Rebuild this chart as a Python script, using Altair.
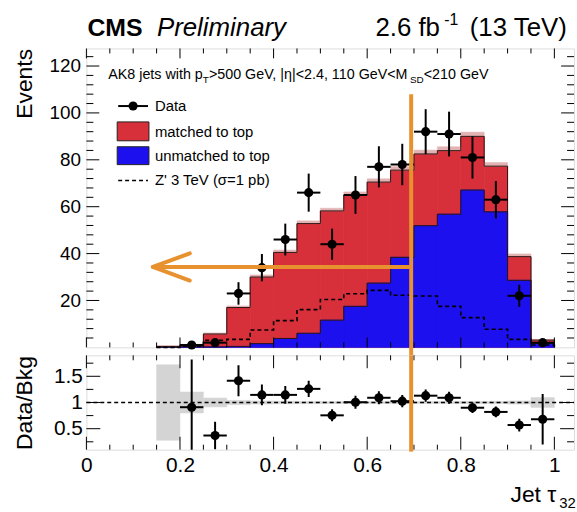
import altair as alt
import pandas as pd
import numpy as np

FONT = "Liberation Sans"
RED = "#d8303a"
BLUE = "#1c10ee"
ORANGE = "#e8912f"
GRAYBAND = "#d4d4d4"

# ---------------- data ----------------
bin_low = [0.15, 0.20, 0.25, 0.30, 0.35, 0.40, 0.45, 0.50, 0.55, 0.60,
           0.65, 0.70, 0.75, 0.80, 0.85, 0.90, 0.95]
bin_width = 0.05
unmatched = [0.1, 0.2, 0.2, 0.4, 1.6, 3.8, 6.0, 11.6, 17.5, 27.4,
             38.4, 51.9, 56.8, 67.1, 57.8, 28.6, 1.7]
matched = [0.3, 0.9, 5.5, 16.6, 28.4, 36.7, 46.8, 46.6, 47.5, 43.1,
           37.2, 30.6, 27.1, 22.9, 19.5, 10.1, 1.4]
zprime = [0.0, 0.5, 3.0, 3.4, 7.4, 11.4, 16.1, 20.4, 22.9, 24.3,
          22.2, 21.9, 17.5, 12.7, 7.7, 3.4, 1.0]
bkg_rel_unc = [0.72, 0.20, 0.085, 0.04, 0.03, 0.025, 0.022, 0.02, 0.02, 0.02,
               0.02, 0.02, 0.02, 0.02, 0.02, 0.03, 0.095]

data_x = [0.225, 0.275, 0.325, 0.375, 0.425, 0.475, 0.525, 0.575,
          0.625, 0.675, 0.725, 0.775, 0.825, 0.875, 0.925, 0.975]
data_n = [1, 2, 23, 34, 46, 66, 44, 65, 77, 78, 92, 91, 81, 63, 22, 2]
ratio = [0.91, 0.37, 1.415, 1.145, 1.145, 1.26, 0.755, 1.005,
         1.09, 1.025, 1.13, 1.09, 0.90, 0.82, 0.57, 0.68]

x_label_vals = [0, 0.2, 0.4, 0.6, 0.8, 1.0]
x_minor_vals = [0.05, 0.1, 0.15, 0.25, 0.3, 0.35, 0.45, 0.5, 0.55, 0.65,
                0.7, 0.75, 0.85, 0.9, 0.95]
y_top_major = [20, 40, 60, 80, 100, 120]
y_top_minor = [4, 8, 12, 16, 24, 28, 32, 36, 44, 48, 52, 56, 64, 68, 72, 76,
               84, 88, 92, 96, 104, 108, 112, 116, 124]
y_rat_major = [0.5, 1.0, 1.5]
y_rat_minor = [0.25, 0.75, 1.25, 1.75]

# annotation (orange overlay) in data units
cut_x = 0.694
arrow_y = 34.3
arrow_tip_x = 0.142
arrow_wing_x = 0.221
arrow_wing_dy = 5.8
cut_top_y = 108

# ---------------- geometry ----------------
W = 491
H_TOP = 301
H_RAT = 95
GAP = 8

XS = alt.Scale(domain=[0, 1.042], nice=False, zero=False)
YT = alt.Scale(domain=[0, 127.5], nice=False, zero=False)
YR = alt.Scale(domain=[0.1, 1.9], nice=False, zero=False)

ONE = pd.DataFrame({"k": [0]})

AW = {' ': 278, 'A': 667, 'K': 667, '8': 556, 'j': 222, 'e': 556, 't': 278, 's': 500,
      'w': 722, 'i': 222, 'h': 556, 'p': 556, 'T': 611, '>': 584, '5': 556, '0': 556,
      'G': 778, 'V': 667, ',': 278, '|': 260, 'η': 556, '<': 584, '2': 556, '.': 278,
      '4': 556, '1': 556, 'M': 833, 'S': 667, 'D': 722, 'J': 500, 'τ': 480}


def tw(s, size):
    return sum(AW.get(c, 556) for c in s) * size / 1000.0


def txt(s, x, y, size, weight="normal", style="normal", align="left", baseline="alphabetic"):
    return alt.Chart(ONE).mark_text(
        text=s, font=FONT, fontSize=size, fontWeight=weight, fontStyle=style,
        align=align, baseline=baseline, color="black"
    ).encode(x=alt.value(x), y=alt.value(y))


# axes (identical object in every layer so that they merge cleanly)
Y_TOP_AX = alt.Axis(values=y_top_major, labelFont=FONT, labelFontSize=19, ticks=False,
                    domain=False, grid=False, labelPadding=6, title="Events",
                    titleFont=FONT, titleFontSize=23, titleFontWeight="normal",
                    titleAngle=-90, titleX=-62, titleY=0, titleAlign="right",
                    titleBaseline="middle", labelColor="black", titleColor="black")
X_RAT_AX = alt.Axis(values=x_label_vals, format="~g", labelFont=FONT, labelFontSize=21,
                    ticks=False, domain=False, grid=False, labelPadding=5,
                    labelFlush=False, title=None, labelColor="black")
Y_RAT_AX = alt.Axis(values=y_rat_major, format="~g", labelFont=FONT, labelFontSize=21,
                    ticks=False, domain=False, grid=False, labelPadding=4,
                    title="Data/Bkg", titleFont=FONT, titleFontSize=23,
                    titleFontWeight="normal", titleAngle=-90, titleX=-62,
                    titleY=H_RAT / 2, titleAlign="center", titleBaseline="middle",
                    labelColor="black", titleColor="black")


def XT(f):
    return alt.X(f, scale=XS, axis=None)


def YTp(f):
    return alt.Y(f, scale=YT, axis=Y_TOP_AX)


def XR(f):
    return alt.X(f, scale=XS, axis=X_RAT_AX)


def YRp(f):
    return alt.Y(f, scale=YR, axis=Y_RAT_AX)


# ---------------- tables ----------------
hist = pd.DataFrame({
    "lo": bin_low,
    "hi": [b + bin_width for b in bin_low],
    "unm": unmatched,
    "mat": matched,
    "unc": bkg_rel_unc,
})
hist["zero"] = 0.0
hist["tot"] = hist["unm"] + hist["mat"]
hist["hatch_hi"] = hist["tot"] * (1 + hist["unc"])
hist["band_lo"] = 1 - hist["unc"]
hist["band_hi"] = 1 + hist["unc"]


def step_table(cols):
    xs = [bin_low[0]] + list(bin_low) + [bin_low[-1] + bin_width] * 2
    out = {"x": xs, "i": list(range(len(xs)))}
    for name, vals in cols.items():
        vals = list(vals)
        out[name] = [0.0] + vals + [vals[-1], 0.0]
    return pd.DataFrame(out)


steps = step_table({"unm": unmatched, "tot": list(hist["tot"]), "zp": zprime})

dat = pd.DataFrame({"x": data_x, "n": data_n, "r": ratio})
dat["err"] = np.sqrt(dat["n"])
dat["lo"] = dat["n"] - dat["err"]
dat["hi"] = dat["n"] + dat["err"]
dat["xl"] = dat["x"] - bin_width / 2
dat["xh"] = dat["x"] + bin_width / 2
dat["rerr"] = dat["r"] / np.sqrt(dat["n"])
dat["rlo"] = dat["r"] - dat["rerr"]
dat["rhi"] = dat["r"] + dat["rerr"]

# ---------------- top panel ----------------
bounds = alt.Chart(ONE).mark_rect(fill="white", opacity=0).encode(
    x=alt.value(-86), x2=alt.value(W), y=alt.value(-46), y2=alt.value(466))

red = alt.Chart(hist).mark_rect(fill=RED, stroke=RED, strokeWidth=0.8).encode(
    x=XT("lo:Q"), x2="hi:Q", y=YTp("zero:Q"), y2="tot:Q")
blue = alt.Chart(hist).mark_rect(fill=BLUE, stroke=BLUE, strokeWidth=0.8).encode(
    x=XT("lo:Q"), x2="hi:Q", y=YTp("zero:Q"), y2="unm:Q")
hatch = alt.Chart(hist).mark_rect(fill="#e3b3b3", stroke="#e3b3b3", strokeWidth=0.5).encode(
    x=XT("lo:Q"), x2="hi:Q", y=YTp("tot:Q"), y2="hatch_hi:Q")


def step_line(field, dash=None, width=1.0, color="#2a1414"):
    kw = dict(interpolate="step-after", color=color, strokeWidth=width)
    if dash:
        kw["strokeDash"] = dash
    return alt.Chart(steps).mark_line(**kw).encode(
        x=XT("x:Q"), y=YTp(f"{field}:Q"), order="i:Q")


tot_line = step_line("tot")
unm_line = step_line("unm")
zp_line = step_line("zp", dash=[4, 3], width=1.6, color="black")

d_vbar = alt.Chart(dat).mark_rule(color="black", strokeWidth=2).encode(
    x=XT("x:Q"), y=YTp("lo:Q"), y2="hi:Q")
d_hbar = alt.Chart(dat).mark_rule(color="black", strokeWidth=2).encode(
    x=XT("xl:Q"), x2="xh:Q", y=YTp("n:Q"))
d_pts = alt.Chart(dat).mark_circle(color="black", opacity=1, size=85).encode(
    x=XT("x:Q"), y=YTp("n:Q"))


def xticks(vals, length, H, xf):
    df = pd.DataFrame({"v": vals})
    b = alt.Chart(df).mark_rule(color="black", strokeWidth=1).encode(
        x=xf("v:Q"), y=alt.value(H), y2=alt.value(H - length))
    t = alt.Chart(df).mark_rule(color="black", strokeWidth=1).encode(
        x=xf("v:Q"), y=alt.value(0), y2=alt.value(length))
    return [b, t]


def yticks(vals, length, yf):
    df = pd.DataFrame({"v": vals})
    l = alt.Chart(df).mark_rule(color="black", strokeWidth=1).encode(
        y=yf("v:Q"), x=alt.value(0), x2=alt.value(length))
    r = alt.Chart(df).mark_rule(color="black", strokeWidth=1).encode(
        y=yf("v:Q"), x=alt.value(W), x2=alt.value(W - length))
    return [l, r]


top_ticks = (xticks(x_label_vals, 10, H_TOP, XT) + xticks(x_minor_vals, 5, H_TOP, XT)
             + yticks(y_top_major, 13, YTp) + yticks(y_top_minor, 7, YTp))

# legend
leg = [
    alt.Chart(ONE).mark_rule(color="black", strokeWidth=2).encode(
        x=alt.value(32), x2=alt.value(62), y=alt.value(58)),
    alt.Chart(ONE).mark_point(filled=True, color="black", opacity=1, size=85, shape="circle").encode(
        x=alt.value(47), y=alt.value(58)),
    alt.Chart(ONE).mark_rect(fill=RED, stroke="#222222", strokeWidth=1).encode(
        x=alt.value(31), x2=alt.value(63), y=alt.value(74), y2=alt.value(93)),
    alt.Chart(ONE).mark_rect(fill=BLUE, stroke="#222222", strokeWidth=1).encode(
        x=alt.value(31), x2=alt.value(63), y=alt.value(99), y2=alt.value(117)),
    alt.Chart(ONE).mark_rule(color="black", strokeWidth=1.6, strokeDash=[4, 3]).encode(
        x=alt.value(32), x2=alt.value(62), y=alt.value(133)),
    txt("Data", 69, 58, 15, baseline="middle"),
    txt("matched to top", 69, 84, 15, baseline="middle"),
    txt("unmatched to top", 69, 108, 15, baseline="middle"),
    txt("Z' 3 TeV (σ=1 pb)", 69, 133, 15, baseline="middle"),
]

# selection text with subscripts
ann = []
FS, SS = 14.4, 10
cx = 22
for s, sub in [("AK8 jets with p", False), ("T", True), (">500 GeV, |η|<2.4, 110 GeV<M", False),
               ("SD", True), ("<210 GeV", False)]:
    size = SS if sub else FS
    ann.append(txt(s, cx, 31 + (4 if sub else 0), size))
    cx += tw(s, size)

# header
header = [
    txt("CMS", 1, -13, 25, weight="bold"),
    txt("Preliminary", 71, -13, 26, style="italic"),
    txt("2.6 fb", 291, -13, 26),
    txt("-1", 291 + tw("2.6 fb", 26) - 3, -24, 16),
    txt("(13 TeV)", 386, -13, 26),
]

# orange overlay in the top panel
orange_top = [
    alt.Chart(pd.DataFrame({"x": [cut_x], "y": [cut_top_y]})).mark_rule(
        color=ORANGE, strokeWidth=4).encode(
        x=XT("x:Q"), y=YTp("y:Q"), y2=alt.value(H_TOP + GAP)),
    alt.Chart(pd.DataFrame({"x": [arrow_tip_x], "x2": [cut_x], "y": [arrow_y]})).mark_rule(
        color=ORANGE, strokeWidth=4).encode(
        x=XT("x:Q"), x2="x2:Q", y=YTp("y:Q")),
    alt.Chart(pd.DataFrame({"x": [arrow_tip_x, arrow_tip_x],
                            "x2": [arrow_wing_x, arrow_wing_x],
                            "y": [arrow_y, arrow_y],
                            "y2": [arrow_y + arrow_wing_dy, arrow_y - arrow_wing_dy]})).mark_rule(
        color=ORANGE, strokeWidth=4, strokeCap="round").encode(
        x=XT("x:Q"), x2="x2:Q", y=YTp("y:Q"), y2="y2:Q"),
]

top = alt.layer(
    bounds, red, blue, hatch, tot_line, unm_line, zp_line,
    d_vbar, d_hbar, d_pts, *top_ticks, *leg, *ann, *header, *orange_top
).properties(width=W, height=H_TOP)

# ---------------- ratio panel ----------------
band = alt.Chart(hist).mark_rect(fill=GRAYBAND, stroke=GRAYBAND, strokeWidth=0.5).encode(
    x=XR("lo:Q"), x2="hi:Q", y=YRp("band_lo:Q"), y2="band_hi:Q")
one_line = alt.Chart(pd.DataFrame({"y": [1.0]})).mark_rule(
    color="black", strokeWidth=1.5, strokeDash=[4, 3]).encode(
    y=YRp("y:Q"), x=alt.value(0), x2=alt.value(W))
r_vbar = alt.Chart(dat).mark_rule(color="black", strokeWidth=2, clip=True).encode(
    x=XR("x:Q"), y=YRp("rlo:Q"), y2="rhi:Q")
r_hbar = alt.Chart(dat).mark_rule(color="black", strokeWidth=2).encode(
    x=XR("xl:Q"), x2="xh:Q", y=YRp("r:Q"))
r_pts = alt.Chart(dat).mark_circle(color="black", opacity=1, size=85).encode(
    x=XR("x:Q"), y=YRp("r:Q"))

rat_ticks = (xticks(x_label_vals, 13, H_RAT, XR) + xticks(x_minor_vals, 5, H_RAT, XR)
             + yticks(y_rat_major, 14, YRp) + yticks(y_rat_minor, 7, YRp))

x_title = [
    txt("Jet τ", 427, 148, 23),
    txt("32", 427 + tw("Jet τ", 23) + 1, 154, 15),
]

orange_rat = alt.Chart(pd.DataFrame({"x": [cut_x]})).mark_rule(
    color=ORANGE, strokeWidth=4).encode(
    x=XR("x:Q"), y=alt.value(0), y2=alt.value(H_RAT + 2))

bottom = alt.layer(
    band, one_line, r_vbar, r_hbar, r_pts, *rat_ticks, *x_title, orange_rat
).properties(width=W, height=H_RAT)

chart = alt.vconcat(top, bottom, spacing=GAP, bounds="flush").properties(
    padding=0
).configure_view(stroke="black", strokeWidth=1.5).configure(background="white")

chart.save("out.html", embed_options={"renderer": "svg", "actions": False})
